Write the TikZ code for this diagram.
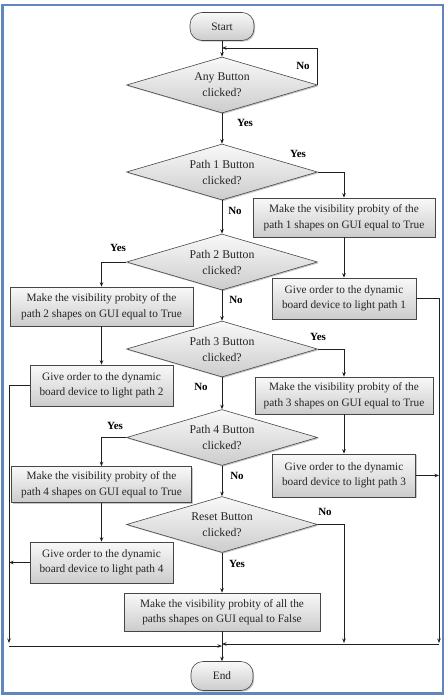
\documentclass[tikz,border=0pt]{standalone}
\usepackage{fontspec}
\setmainfont{Liberation Serif}
\usetikzlibrary{shapes.geometric,shadows,arrows.meta}
\definecolor{frameblue}{RGB}{95,135,190}
\definecolor{txt}{RGB}{40,35,40}
\tikzset{
  base/.style={draw=gray!55!black, line width=0.6pt, top color=gray!5, bottom color=gray!40,
     drop shadow={opacity=0.45, shadow xshift=1.2pt, shadow yshift=-1.2pt},
     text=txt, font=\fontsize{11.3}{15.5}\selectfont, align=center, inner sep=1pt},
  procbox/.style={base, rectangle, minimum width=#1, minimum height=39pt},
  termbox/.style={base, rectangle, rounded corners=12pt, minimum width=#1, minimum height=28pt},
  decbox/.style={base, diamond, minimum width=191pt, minimum height=56pt, aspect=3.4,
     font=\fontsize{11.8}{16}\selectfont},
  conn/.style={draw=gray!25!black, line width=0.7pt},
  arr/.style={conn, -{Stealth[length=4.5pt,width=3.5pt]}},
  lbl/.style={font=\fontsize{11}{12}\selectfont\bfseries, text=black}
}
\begin{document}
\begin{tikzpicture}[x=1pt,y=-1pt]
\useasboundingbox (0,0) rectangle (445,695);
\draw[frameblue, line width=2.2pt] (2.5,5) rectangle (443,693.5);

\node[termbox=64pt] (start) at (222,26.5) {Start};
\node[decbox] (d0) at (222,85) {Any Button\\clicked?};
\node[decbox] (d1) at (222,172) {Path 1 Button\\clicked?};
\node[procbox=182pt] (b1a) at (344,217.5) {Make the visibility probity of the\\path 1 shapes on GUI equal to True};
\node[decbox] (d2) at (222,262) {Path 2 Button\\clicked?};
\node[procbox=183pt] (b2a) at (101.5,306.5) {Make the visibility probity of the\\path 2 shapes on GUI equal to True};
\node[procbox=144pt, minimum height=41pt] (b1b) at (344,298.5) {Give order to the dynamic\\board device to light path 1};
\node[decbox] (d3) at (222,349) {Path 3 Button\\clicked?};
\node[procbox=178pt, minimum height=37pt] (b3a) at (344,395.5) {Make the visibility probity of the\\path 3 shapes on GUI equal to True};
\node[procbox=143pt, minimum height=41pt] (b2b) at (101.5,385.5) {Give order to the dynamic\\board device to light path 2};
\node[decbox] (d4) at (222,437.5) {Path 4 Button\\clicked?};
\node[procbox=180pt, minimum height=36pt] (b4a) at (101.5,484.5) {Make the visibility probity of the\\path 4 shapes on GUI equal to True};
\node[procbox=143pt, minimum height=43pt] (b3b) at (344,475.5) {Give order to the dynamic\\board device to light path 3};
\node[decbox] (d5) at (222,524.5) {Reset Button\\clicked?};
\node[procbox=143pt, minimum height=41pt] (b4b) at (101.5,562.5) {Give order to the dynamic\\board device to light path 4};
\node[procbox=196pt, minimum height=38pt] (b5) at (222,612) {Make the visibility probity of all the\\paths shapes on GUI equal to False};
\node[termbox=62pt, minimum height=29pt] (end) at (222,676) {End};

\coordinate (loopc) at (222,48);
\coordinate (rbot) at (439,643);
\coordinate (lbot) at (9,643);
\coordinate (mergeR) at (222,644);
\coordinate (mergeL) at (222,646);
\coordinate (resetdown) at (344,643);
\coordinate (leftR) at (9,646);

% main column
\draw[arr] (start) -- (d0);
\draw[arr] (d0.east) |- (loopc);
\draw[arr] (d0) -- (d1);
\draw[arr] (d1) -- (d2);
\draw[arr] (d2) -- (d3);
\draw[arr] (d3) -- (d4);
\draw[arr] (d4) -- (d5);
\draw[arr] (d5) -- (b5);
\draw[arr] (b5) -- (end);

% branches
\draw[arr] (d1.east) -| (b1a.north);
\draw[arr] (b1a) -- (b1b);
\draw[arr] (d2.west) -| (b2a.north);
\draw[arr] (b2a) -- (b2b);
\draw[arr] (d3.east) -| (b3a.north);
\draw[arr] (b3a) -- (b3b);
\draw[arr] (d4.west) -| (b4a.north);
\draw[arr] (b4a) -- (b4b);
\draw[arr] (d5.east) -| (resetdown);

% right collector
\draw[arr] (b1b.east) -| (rbot);
\draw[arr] (b3b.east) -- (b3b.east -| rbot);
\draw[arr] (rbot |- mergeR) -- (mergeR);
% left collector
\draw[arr] (b2b.west) -| (lbot);
\draw[arr] (b4b.west) -- (b4b.west -| lbot);
\draw[arr] (leftR) -- (mergeL);

% labels
\node[lbl] (l0n) at (303,66) {No};
\node[lbl] (l0y) at (245,123) {Yes};
\node[lbl] (l1y) at (298,154) {Yes};
\node[lbl] (l1n) at (235,211) {No};
\node[lbl] (l2y) at (118,248) {Yes};
\node[lbl] (l2n) at (236,300) {No};
\node[lbl] (l3y) at (318,337) {Yes};
\node[lbl] (l3n) at (201,387) {No};
\node[lbl] (l4y) at (115,426) {Yes};
\node[lbl] (l4n) at (237,476) {No};
\node[lbl] (l5n) at (325,512) {No};
\node[lbl] (l5y) at (237,564) {Yes};
\end{tikzpicture}
\end{document}
